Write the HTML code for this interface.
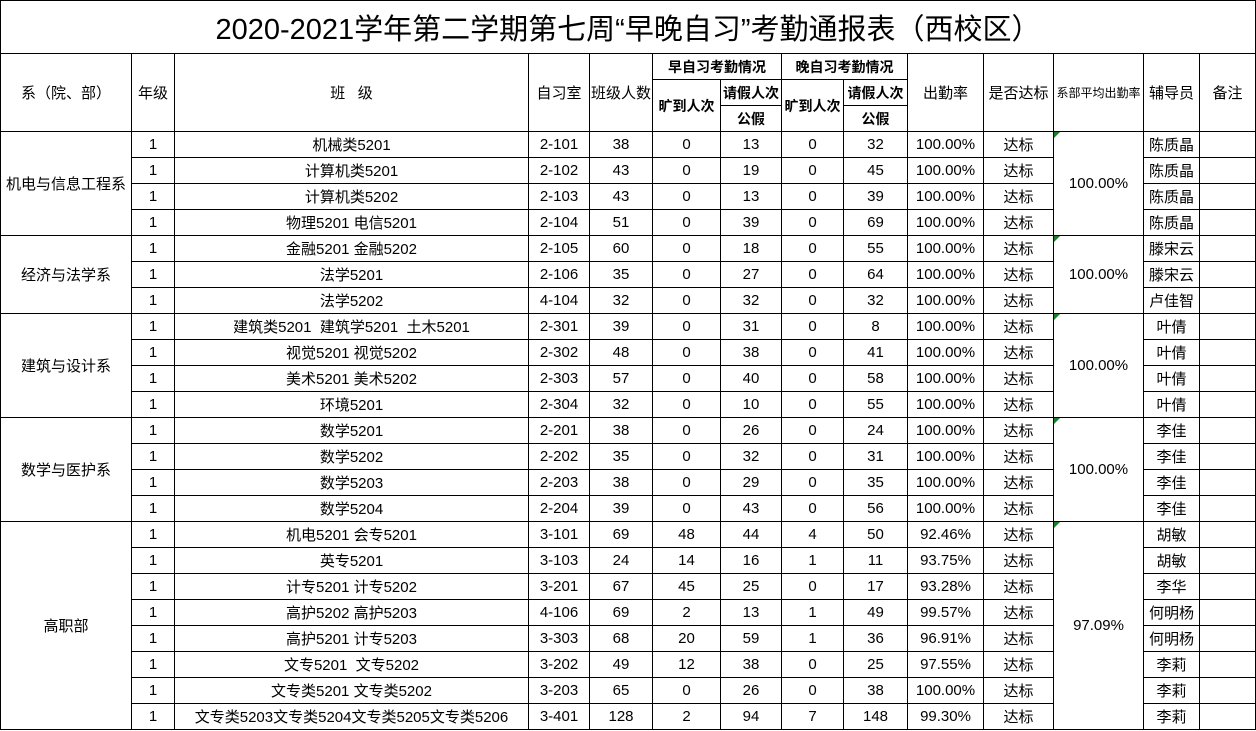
<!DOCTYPE html>
<html><head><meta charset="utf-8"><style>
html,body{margin:0;padding:0;background:#fff;width:1256px;height:731px;overflow:hidden}
table{border-collapse:collapse;table-layout:fixed;position:absolute;left:0;top:0;font-family:"Liberation Sans","Noto Sans CJK SC",sans-serif;font-size:15px;color:#000}
td{border:1px solid #000;text-align:center;vertical-align:middle;padding:0;white-space:nowrap;overflow:hidden;position:relative}
tr{height:26px}
.t{font-size:29px;height:52px}
.b{font-weight:bold;font-size:14px}
.s{font-size:12px}
.g::before{content:"";position:absolute;left:0;top:0;border-top:6px solid #1a7f2a;border-right:6px solid transparent}
</style></head><body>
<table>
<colgroup><col style="width:131px"><col style="width:43px"><col style="width:354px"><col style="width:61px"><col style="width:63px"><col style="width:68px"><col style="width:61px"><col style="width:62px"><col style="width:64px"><col style="width:76px"><col style="width:70px"><col style="width:90px"><col style="width:56px"><col style="width:56px"></colgroup>
<tr style="height:53px"><td colspan="14" class="t">2020-2021学年第二学期第七周“早晚自习”考勤通报表（西校区）</td></tr>
<tr><td rowspan="3">系（院、部）</td><td rowspan="3">年级</td><td rowspan="3">班&nbsp;&nbsp;&nbsp;级</td><td rowspan="3">自习室</td><td rowspan="3">班级人数</td><td colspan="2" class="b">早自习考勤情况</td><td colspan="2" class="b">晚自习考勤情况</td><td rowspan="3">出勤率</td><td rowspan="3">是否达标</td><td rowspan="3" class="s">系部平均出勤率</td><td rowspan="3">辅导员</td><td rowspan="3">备注</td></tr>
<tr><td rowspan="2" class="b">旷到人次</td><td class="b">请假人次</td><td rowspan="2" class="b">旷到人次</td><td class="b">请假人次</td></tr>
<tr><td class="b">公假</td><td class="b">公假</td></tr>
<tr><td rowspan="4">机电与信息工程系</td><td>1</td><td>机械类5201</td><td>2-101</td><td>38</td><td>0</td><td>13</td><td>0</td><td>32</td><td>100.00%</td><td>达标</td><td rowspan="4" class="g">100.00%</td><td>陈质晶</td><td></td></tr>
<tr><td>1</td><td>计算机类5201</td><td>2-102</td><td>43</td><td>0</td><td>19</td><td>0</td><td>45</td><td>100.00%</td><td>达标</td><td>陈质晶</td><td></td></tr>
<tr><td>1</td><td>计算机类5202</td><td>2-103</td><td>43</td><td>0</td><td>13</td><td>0</td><td>39</td><td>100.00%</td><td>达标</td><td>陈质晶</td><td></td></tr>
<tr><td>1</td><td>物理5201 电信5201</td><td>2-104</td><td>51</td><td>0</td><td>39</td><td>0</td><td>69</td><td>100.00%</td><td>达标</td><td>陈质晶</td><td></td></tr>
<tr><td rowspan="3">经济与法学系</td><td>1</td><td>金融5201 金融5202</td><td>2-105</td><td>60</td><td>0</td><td>18</td><td>0</td><td>55</td><td>100.00%</td><td>达标</td><td rowspan="3" class="g">100.00%</td><td>滕宋云</td><td></td></tr>
<tr><td>1</td><td>法学5201</td><td>2-106</td><td>35</td><td>0</td><td>27</td><td>0</td><td>64</td><td>100.00%</td><td>达标</td><td>滕宋云</td><td></td></tr>
<tr><td>1</td><td>法学5202</td><td>4-104</td><td>32</td><td>0</td><td>32</td><td>0</td><td>32</td><td>100.00%</td><td>达标</td><td>卢佳智</td><td></td></tr>
<tr><td rowspan="4">建筑与设计系</td><td>1</td><td>建筑类5201&nbsp; 建筑学5201&nbsp; 土木5201</td><td>2-301</td><td>39</td><td>0</td><td>31</td><td>0</td><td>8</td><td>100.00%</td><td>达标</td><td rowspan="4" class="g">100.00%</td><td>叶倩</td><td></td></tr>
<tr><td>1</td><td>视觉5201 视觉5202</td><td>2-302</td><td>48</td><td>0</td><td>38</td><td>0</td><td>41</td><td>100.00%</td><td>达标</td><td>叶倩</td><td></td></tr>
<tr><td>1</td><td>美术5201 美术5202</td><td>2-303</td><td>57</td><td>0</td><td>40</td><td>0</td><td>58</td><td>100.00%</td><td>达标</td><td>叶倩</td><td></td></tr>
<tr><td>1</td><td>环境5201</td><td>2-304</td><td>32</td><td>0</td><td>10</td><td>0</td><td>55</td><td>100.00%</td><td>达标</td><td>叶倩</td><td></td></tr>
<tr><td rowspan="4">数学与医护系</td><td>1</td><td>数学5201</td><td>2-201</td><td>38</td><td>0</td><td>26</td><td>0</td><td>24</td><td>100.00%</td><td>达标</td><td rowspan="4" class="g">100.00%</td><td>李佳</td><td></td></tr>
<tr><td>1</td><td>数学5202</td><td>2-202</td><td>35</td><td>0</td><td>32</td><td>0</td><td>31</td><td>100.00%</td><td>达标</td><td>李佳</td><td></td></tr>
<tr><td>1</td><td>数学5203</td><td>2-203</td><td>38</td><td>0</td><td>29</td><td>0</td><td>35</td><td>100.00%</td><td>达标</td><td>李佳</td><td></td></tr>
<tr><td>1</td><td>数学5204</td><td>2-204</td><td>39</td><td>0</td><td>43</td><td>0</td><td>56</td><td>100.00%</td><td>达标</td><td>李佳</td><td></td></tr>
<tr><td rowspan="8">高职部</td><td>1</td><td>机电5201 会专5201</td><td>3-101</td><td>69</td><td>48</td><td>44</td><td>4</td><td>50</td><td>92.46%</td><td>达标</td><td rowspan="8" class="g">97.09%</td><td>胡敏</td><td></td></tr>
<tr><td>1</td><td>英专5201</td><td>3-103</td><td>24</td><td>14</td><td>16</td><td>1</td><td>11</td><td>93.75%</td><td>达标</td><td>胡敏</td><td></td></tr>
<tr><td>1</td><td>计专5201 计专5202</td><td>3-201</td><td>67</td><td>45</td><td>25</td><td>0</td><td>17</td><td>93.28%</td><td>达标</td><td>李华</td><td></td></tr>
<tr><td>1</td><td>高护5202 高护5203</td><td>4-106</td><td>69</td><td>2</td><td>13</td><td>1</td><td>49</td><td>99.57%</td><td>达标</td><td>何明杨</td><td></td></tr>
<tr><td>1</td><td>高护5201 计专5203</td><td>3-303</td><td>68</td><td>20</td><td>59</td><td>1</td><td>36</td><td>96.91%</td><td>达标</td><td>何明杨</td><td></td></tr>
<tr><td>1</td><td>文专5201&nbsp; 文专5202</td><td>3-202</td><td>49</td><td>12</td><td>38</td><td>0</td><td>25</td><td>97.55%</td><td>达标</td><td>李莉</td><td></td></tr>
<tr><td>1</td><td>文专类5201 文专类5202</td><td>3-203</td><td>65</td><td>0</td><td>26</td><td>0</td><td>38</td><td>100.00%</td><td>达标</td><td>李莉</td><td></td></tr>
<tr><td>1</td><td>文专类5203文专类5204文专类5205文专类5206</td><td>3-401</td><td>128</td><td>2</td><td>94</td><td>7</td><td>148</td><td>99.30%</td><td>达标</td><td>李莉</td><td></td></tr>
</table>
</body></html>
